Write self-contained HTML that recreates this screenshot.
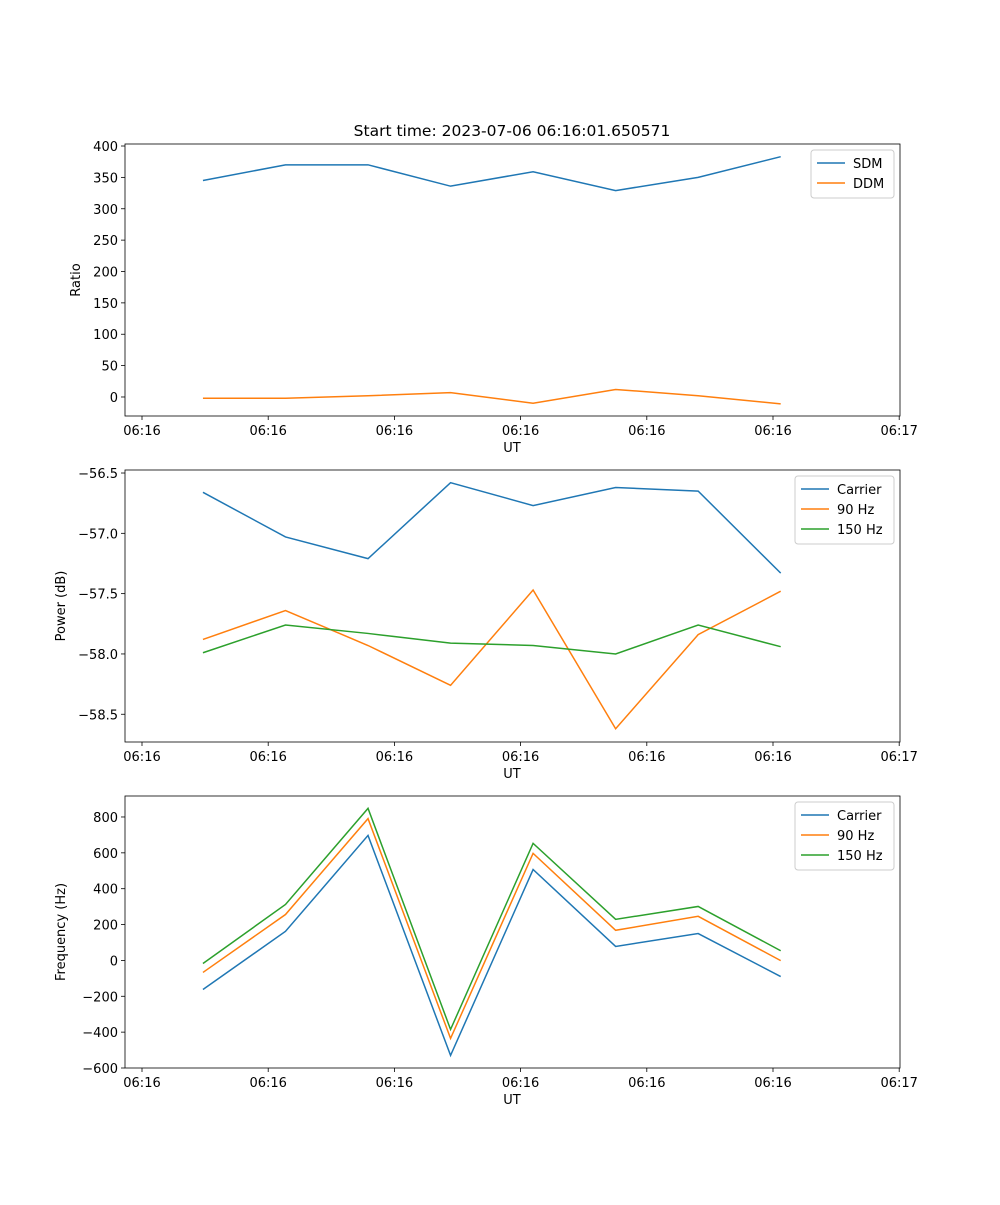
<!DOCTYPE html>
<html><head><meta charset="utf-8"><style>
body{margin:0;background:#fff;}
svg text{font-family:"DejaVu Sans","Liberation Sans",sans-serif;font-size:13px;fill:#000;}
</style></head><body>
<svg id="fig" width="1000" height="1200" xmlns="http://www.w3.org/2000/svg">
<text x="512" y="136" text-anchor="middle" style="font-size:15.5px">Start time: 2023-07-06 06:16:01.650571</text>
</svg>
<script>
const xTimes = [0.483, 1.137, 1.791, 2.445, 3.099, 3.753, 4.407, 5.061];
const xTickVals = [0, 1, 2, 3, 4, 5, 6];
const xTickLabels = ["06:16","06:16","06:16","06:16","06:16","06:16","06:17"];

const sdm = [345, 370, 370, 336, 359, 329, 350, 383];
const ddm = [-2, -2, 2, 7, -10, 12, 2, -11];
const ratioTicks = [0, 50, 100, 150, 200, 250, 300, 350, 400];

const powCarrier = [-56.66, -57.03, -57.21, -56.58, -56.77, -56.62, -56.65, -57.33];
const pow90 = [-57.88, -57.64, -57.93, -58.26, -57.47, -58.62, -57.84, -57.48];
const pow150 = [-57.99, -57.76, -57.83, -57.91, -57.93, -58.0, -57.76, -57.94];
const powTicks = [-56.5, -57.0, -57.5, -58.0, -58.5];
const powTickLabels = ["\u221256.5","\u221257.0","\u221257.5","\u221258.0","\u221258.5"];

const freqCarrier = [-162, 162, 697, -530, 507, 78, 150, -90];
const freq90 = [-67, 256, 791, -435, 597, 168, 246, -1];
const freq150 = [-17, 312, 848, -385, 653, 229, 301, 54];
const freqTicks = [800, 600, 400, 200, 0, -200, -400, -600];

const svg = document.getElementById('fig');
const NS = 'http://www.w3.org/2000/svg';
function mk(tag, attrs, parent){const e=document.createElementNS(NS,tag);for(const k in attrs)e.setAttribute(k,attrs[k]);(parent||svg).appendChild(e);return e;}
const L=125,R=900;
const xs = t => 142 + t*126.2;
const colors=['#1f77b4','#ff7f0e','#2ca02c'];

function panel(name, top, bottom, yMin, yMax, ticks, tickLabels, yLabel, series, names, legW){
  const g = mk('g',{});
  
  
  const ys = v => bottom - (v - yMin)/(yMax - yMin)*(bottom - top);
  // x ticks
  xTickVals.forEach((t,i)=>{
    const x=xs(t);
    mk('line',{x1:x,x2:x,y1:bottom,y2:bottom+4,stroke:'#000','stroke-width':0.8},g);
    const tx=mk('text',{x:x,y:bottom+19,'text-anchor':'middle'},g);tx.textContent=xTickLabels[i];
    
    
  });
  ticks.forEach((v,i)=>{
    const y=ys(v);
    mk('line',{x1:L-4,x2:L,y1:y,y2:y,stroke:'#000','stroke-width':0.8},g);
    const tx=mk('text',{x:L-7,y:y+5,'text-anchor':'end'},g);tx.textContent=tickLabels[i];
    
    
  });
  const xl=mk('text',{x:512,y:bottom+36,'text-anchor':'middle'},g);xl.textContent='UT';
  
  
  const cy=(top+bottom)/2;
  const yl=mk('text',{x:0,y:0,'text-anchor':'middle',transform:`translate(${name==='ratio-panel'?80:65},${cy}) rotate(-90)`},g);yl.textContent=yLabel;
  
  
  series.forEach((s,i)=>{
    const p=mk('polyline',{points:s.map((v,j)=>xs(xTimes[j])+','+ys(v)).join(' '),fill:'none',stroke:colors[i],'stroke-width':1.5},g);
    
    
  });
  mk('rect',{x:L,y:top,width:R-L,height:bottom-top,fill:'none',stroke:'#000','stroke-width':0.8},g);
  // legend
  const lx=R-6-legW, ly=top+6, lh=8+names.length*20;
  const lg=mk('g',{},g);
  
  
  mk('rect',{x:lx,y:ly,width:legW,height:lh,fill:'#fff',stroke:'#ccc',rx:3},lg);
  names.forEach((n,i)=>{
    const yy=ly+13+i*20;
    mk('line',{x1:lx+6,x2:lx+34,y1:yy,y2:yy,stroke:colors[i],'stroke-width':1.5},lg);
    const t=mk('text',{x:lx+42,y:yy+5},lg);t.textContent=n;
    
    
  });
}
panel('ratio-panel',144,416,-30.3,403.2,ratioTicks,ratioTicks.map(String),'Ratio',[sdm,ddm],['SDM','DDM'],83);
panel('power-panel',470,742,-58.73,-56.475,powTicks,powTickLabels,'Power (dB)',[powCarrier,pow90,pow150],['Carrier','90 Hz','150 Hz'],99);
panel('frequency-panel',796,1068,-600,917,freqTicks,freqTicks.map(v=>v<0?'\u2212'+(-v):String(v)),'Frequency (Hz)',[freqCarrier,freq90,freq150],['Carrier','90 Hz','150 Hz'],99);
</script>
</body></html>
